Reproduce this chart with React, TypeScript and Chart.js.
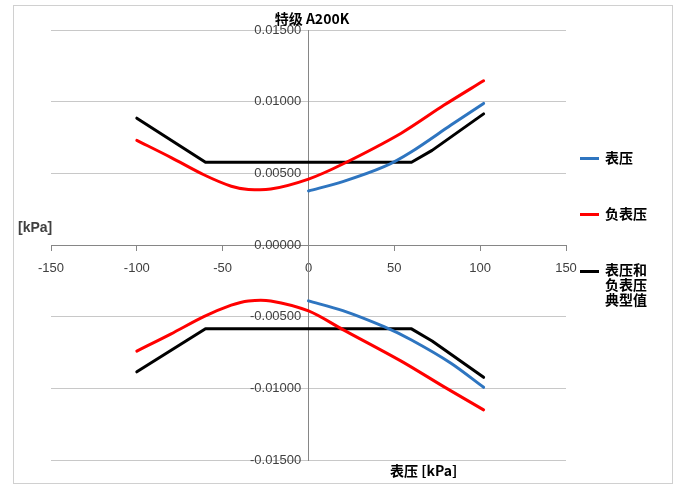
import React, { useEffect, useRef } from "react";
import { Chart, registerables } from "chart.js";

Chart.register(...registerables);

// ---- data ----
const titleText = "特级 A200K";
const seriesNames = ["表压", "负表压", "表压和负表压典型值"];
const xTickValues = [-150, -100, -50, 0, 50, 100, 150];
const yTickValues = [-0.015, -0.01, -0.005, 0, 0.005, 0.01, 0.015];

// 表压 (gauge pressure)
const gaugeX = [0, 20, 44, 60, 83, 102];
const gaugeUpper = [0.00377, 0.00442, 0.00546, 0.00651, 0.00837, 0.00988];
const gaugeLower = [-0.0039, -0.00458, -0.0057, -0.00663, -0.00825, -0.00993];

// 负表压 (negative gauge pressure)
const vacX = [-100, -80, -61, -45, -35, -22, 0, 20, 54, 79, 102];
const vacUpper = [0.0073, 0.0061, 0.0049, 0.0041, 0.00388, 0.0039, 0.0046, 0.00565, 0.0078, 0.00976, 0.01146];
const vacLower = [-0.0074, -0.0062, -0.005, -0.0042, -0.0039, -0.0039, -0.0046, -0.0059, -0.0081, -0.0099, -0.0115];

// 表压和负表压典型值 (typical)
const typX = [-100, -60, 60, 72, 102];
const typUpper = [0.00885, 0.00577, 0.00577, 0.0066, 0.00915];
const typLower = [-0.00885, -0.00585, -0.00585, -0.0067, -0.00923];

const BLUE = "#2e75c0";
const RED = "#ff0000";
const BLACK = "#000000";

const pts = (xs: number[], ys: number[]) => xs.map((x, i) => ({ x, y: ys[i] }));

export default function App() {
  const canvasRef = useRef<HTMLCanvasElement | null>(null);

  useEffect(() => {
    document.body.style.margin = "0";
    const ctx = canvasRef.current!;
    const mk = (label: string, data: any, color: string, smooth: boolean) => ({
      label,
      data,
      borderColor: color,
      backgroundColor: color,
      borderWidth: 3,
      pointRadius: 0,
      fill: false,
      tension: smooth ? 0.3 : 0,
      borderJoinStyle: "round" as const,
      borderCapStyle: "round" as const,
    });
    const chart = new Chart(ctx, {
      type: "line",
      data: {
        datasets: [
          mk(seriesNames[0], pts(gaugeX, gaugeUpper), BLUE, true),
          mk(seriesNames[0], pts(gaugeX, gaugeLower), BLUE, true),
          mk(seriesNames[1], pts(vacX, vacUpper), RED, true),
          mk(seriesNames[1], pts(vacX, vacLower), RED, true),
          mk(seriesNames[2], pts(typX, typUpper), BLACK, false),
          mk(seriesNames[2], pts(typX, typLower), BLACK, false),
        ],
      },
      options: {
        responsive: false,
        animation: false,
        layout: { padding: { left: 51, right: 112, top: 30, bottom: 26 } },
        plugins: {
          legend: { display: false },
          title: { display: false },
          tooltip: { enabled: false },
        },
        scales: {
          x: {
            type: "linear",
            min: -150,
            max: 150,
            position: { y: 0 } as any,
            afterBuildTicks: (s: any) => {
              s.ticks = xTickValues.map((v) => ({ value: v }));
            },
            ticks: {
              color: "#404040",
              font: { family: "Liberation Sans", size: 13 },
              padding: 11,
              maxRotation: 0,
              autoSkip: false,
            },
            grid: { drawOnChartArea: false, drawTicks: true, tickLength: 5, color: "#868686" },
            border: { color: "#868686", width: 1 },
          },
          y: {
            type: "linear",
            min: -0.015,
            max: 0.015,
            position: { x: 0 } as any,
            afterBuildTicks: (s: any) => {
              s.ticks = yTickValues.map((v) => ({ value: v }));
            },
            ticks: {
              color: "#404040",
              font: { family: "Liberation Sans", size: 13 },
              callback: (v: any) => Number(v).toFixed(5) + "  ",
              autoSkip: false,
            },
            grid: { color: "#c8c8c8", drawTicks: false, lineWidth: 1 },
            border: { color: "#868686", width: 1 },
          },
        },
      },
    });
    return () => chart.destroy();
  }, []);

  const legendText: React.CSSProperties = {
    position: "absolute",
    fontFamily: "'Noto Sans CJK SC', sans-serif",
    fontWeight: 700,
    fontSize: 14,
    lineHeight: "15px",
    color: "#000",
  };
  const swatch = (color: string, top: number): React.CSSProperties => ({
    position: "absolute",
    left: 580,
    top,
    width: 19,
    height: 3,
    background: color,
  });

  return (
    <div style={{ position: "absolute", left: 0, top: 0, width: 678, height: 486, background: "#fff" }}>
      <div
        style={{
          position: "absolute",
          left: 13,
          top: 5,
          width: 658,
          height: 477,
          border: "1px solid #d0d0d0",
        }}
      />
      <canvas ref={canvasRef} width={678} height={486} style={{ position: "absolute", left: 0, top: 0 }} />
      <div
        style={{
          position: "absolute",
          left: 0,
          width: 624,
          top: 8,
          textAlign: "center",
          fontFamily: "'Noto Sans CJK SC', 'Liberation Sans', sans-serif",
          fontWeight: 700,
          fontSize: 14,
          color: "#000",
        }}
      >
        {titleText}
      </div>
      <div
        style={{
          position: "absolute",
          left: 18,
          top: 219,
          fontFamily: "'Liberation Sans', sans-serif",
          fontWeight: 700,
          fontSize: 14,
          color: "#404040",
        }}
      >
        [kPa]
      </div>
      <div
        style={{
          position: "absolute",
          left: 390,
          top: 460,
          fontFamily: "'Noto Sans CJK SC', 'Liberation Sans', sans-serif",
          fontWeight: 700,
          fontSize: 14,
          color: "#000",
        }}
      >
        表压 [kPa]
      </div>
      <div style={swatch(BLUE, 157)} />
      <div style={{ ...legendText, left: 605, top: 150 }}>{seriesNames[0]}</div>
      <div style={swatch(RED, 213)} />
      <div style={{ ...legendText, left: 605, top: 206 }}>{seriesNames[1]}</div>
      <div style={swatch(BLACK, 270)} />
      <div style={{ ...legendText, left: 605, top: 262, width: 45 }}>
        表压和
        <br />
        负表压
        <br />
        典型值
      </div>
    </div>
  );
}
